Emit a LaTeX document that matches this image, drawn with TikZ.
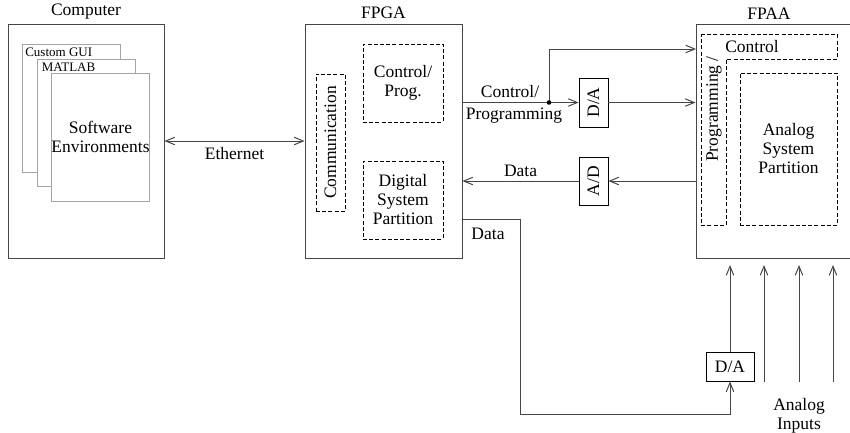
\documentclass[tikz,border=0pt]{standalone}
\usepackage{fontspec}
\setmainfont{Liberation Serif}
\usepackage{tikz}
\usetikzlibrary{arrows.meta,positioning}
\definecolor{lineC}{RGB}{70,70,70}
\definecolor{pageC}{RGB}{165,165,165}
\tikzset{
  blk/.style={rectangle, draw=lineC, line width=1pt, inner sep=0pt},
  part/.style={rectangle, draw=black, dashed, dash pattern=on 4pt off 2.2pt, line width=0.8pt,
               align=center, inner sep=0pt},
  page/.style={rectangle, draw=pageC, fill=white, line width=0.8pt, align=center, inner sep=0pt},
  conv/.style={rectangle, draw=black, line width=0.9pt, inner sep=0pt},
  arr/.style={-{Straight Barb[length=9pt,width=7.5pt]}, line width=1pt, draw=lineC},
  arrs/.style={{Straight Barb[length=9pt,width=7.5pt]}-{Straight Barb[length=9pt,width=7.5pt]},
               line width=1pt, draw=lineC},
  lbl/.style={align=center},
}

\begin{document}
\begin{tikzpicture}[x=1pt, y=-1pt, font=\fontsize{17.5}{19}\selectfont]
        \clip (0,0) rectangle (850,432);
        % computer
        \node[blk, minimum width=156, minimum height=234] (comp) at (86,141) {};
        \node[lbl, above=1pt of comp] (compT) {Computer};
        \node[page, minimum width=98, minimum height=128] (gui) at (71,108) {};
        \node[anchor=north west, inner sep=2pt, font=\fontsize{13}{14}\selectfont] (guiT) at ([xshift=1.5pt,yshift=-2.5pt]gui.north west) {Custom GUI};
        \node[page, minimum width=98, minimum height=127] (mat) at (86,122.5) {};
        \node[anchor=north west, inner sep=2pt, font=\fontsize{13}{14}\selectfont] (matT) at ([xshift=3pt,yshift=-2.5pt]mat.north west) {MATLAB};
        \node[page, minimum width=97, minimum height=128] (sw) at (100.5,137) {Software\\Environments};
        % fpga
        \node[blk, minimum width=157, minimum height=234] (fpga) at (383.5,141) {};
        \node[lbl, above=1pt of fpga] (fpgaT) {FPGA};
        \node[part, minimum width=29, minimum height=137] (com) at (330.5,142.5) {};
        \node[rotate=90] (comT) at (com) {Communication};
        \node[part, minimum width=80, minimum height=78] (ctl) at (403,83) {Control/\\Prog.};
        \node[part, minimum width=80, minimum height=78] (dsp) at (403,200) {Digital\\System\\Partition};
        % fpaa
        \node[blk, minimum width=170, minimum height=234] (fpaa) at (781,141) {};
        \node[lbl] (fpaaT) at (769,14) {FPAA};
        \draw[black, dash pattern=on 4pt off 2.2pt, line width=0.8pt]
          (701,34) -- (837,34) -- (837,59) -- (726,59) -- (726,225) -- (701,225) -- cycle;
        \node (ctlT) at (752,47) {Control};
        \node[rotate=90] (progT) at (714,109) {Programming /};
        \node[part, minimum width=97, minimum height=152] (asp) at (788.5,149) {Analog\\System\\Partition};
        % converters
        \node[conv, minimum width=29, minimum height=49] (da) at (593.5,102.5) {};
        \node[rotate=90] (daT) at (da) {D/A};
        \node[conv, minimum width=29, minimum height=48] (ad) at (593.5,181) {};
        \node[rotate=90] (adT) at (ad) {A/D};
        \node[conv, minimum width=48, minimum height=29] (dab) at (730,366.5) {D/A};
        % links
        \draw[arrs] (comp.east) -- node[below=3pt] (ethT) {Ethernet} (fpga.west);
        \coordinate (split) at (549,102.5);
        \coordinate (ctlIn) at (696,49);
        \draw[arr] (fpga.east |- da.west) -- (da.west);
        \draw[arr] (split) |- (ctlIn);
        \fill[black] (split) circle (2.3);
        \node (cpT) at (510,92) {Control/};
        \node (cpB) at (514,116) {Programming};
        \draw[arr] (da.east) -- (fpaa.west |- da.east);
        \draw[arr] (fpaa.west |- ad.east) -- (ad.east);
        \draw[arr] (ad.west) -- node[above=1pt] (dataT) {Data} (fpga.east |- ad.west);
        \coordinate (dOut) at (462,219);
        \draw[arr] (dOut) -- (520,219) -- (520,414) -| (dab.south);
        \node (dataB) at (488,234) {Data};
        \coordinate (fpaaIn) at (0,265);
        \draw[arr] (dab.north) -- (dab.north |- fpaaIn);
        \foreach \x in {764,799,833} {
          \coordinate (ain\x) at (\x,382);
          \draw[arr] (ain\x) -- (ain\x |- fpaaIn);
        }
        \node[lbl] (ainT) at (799,416) {Analog\\Inputs};
      \end{tikzpicture}
\end{document}
